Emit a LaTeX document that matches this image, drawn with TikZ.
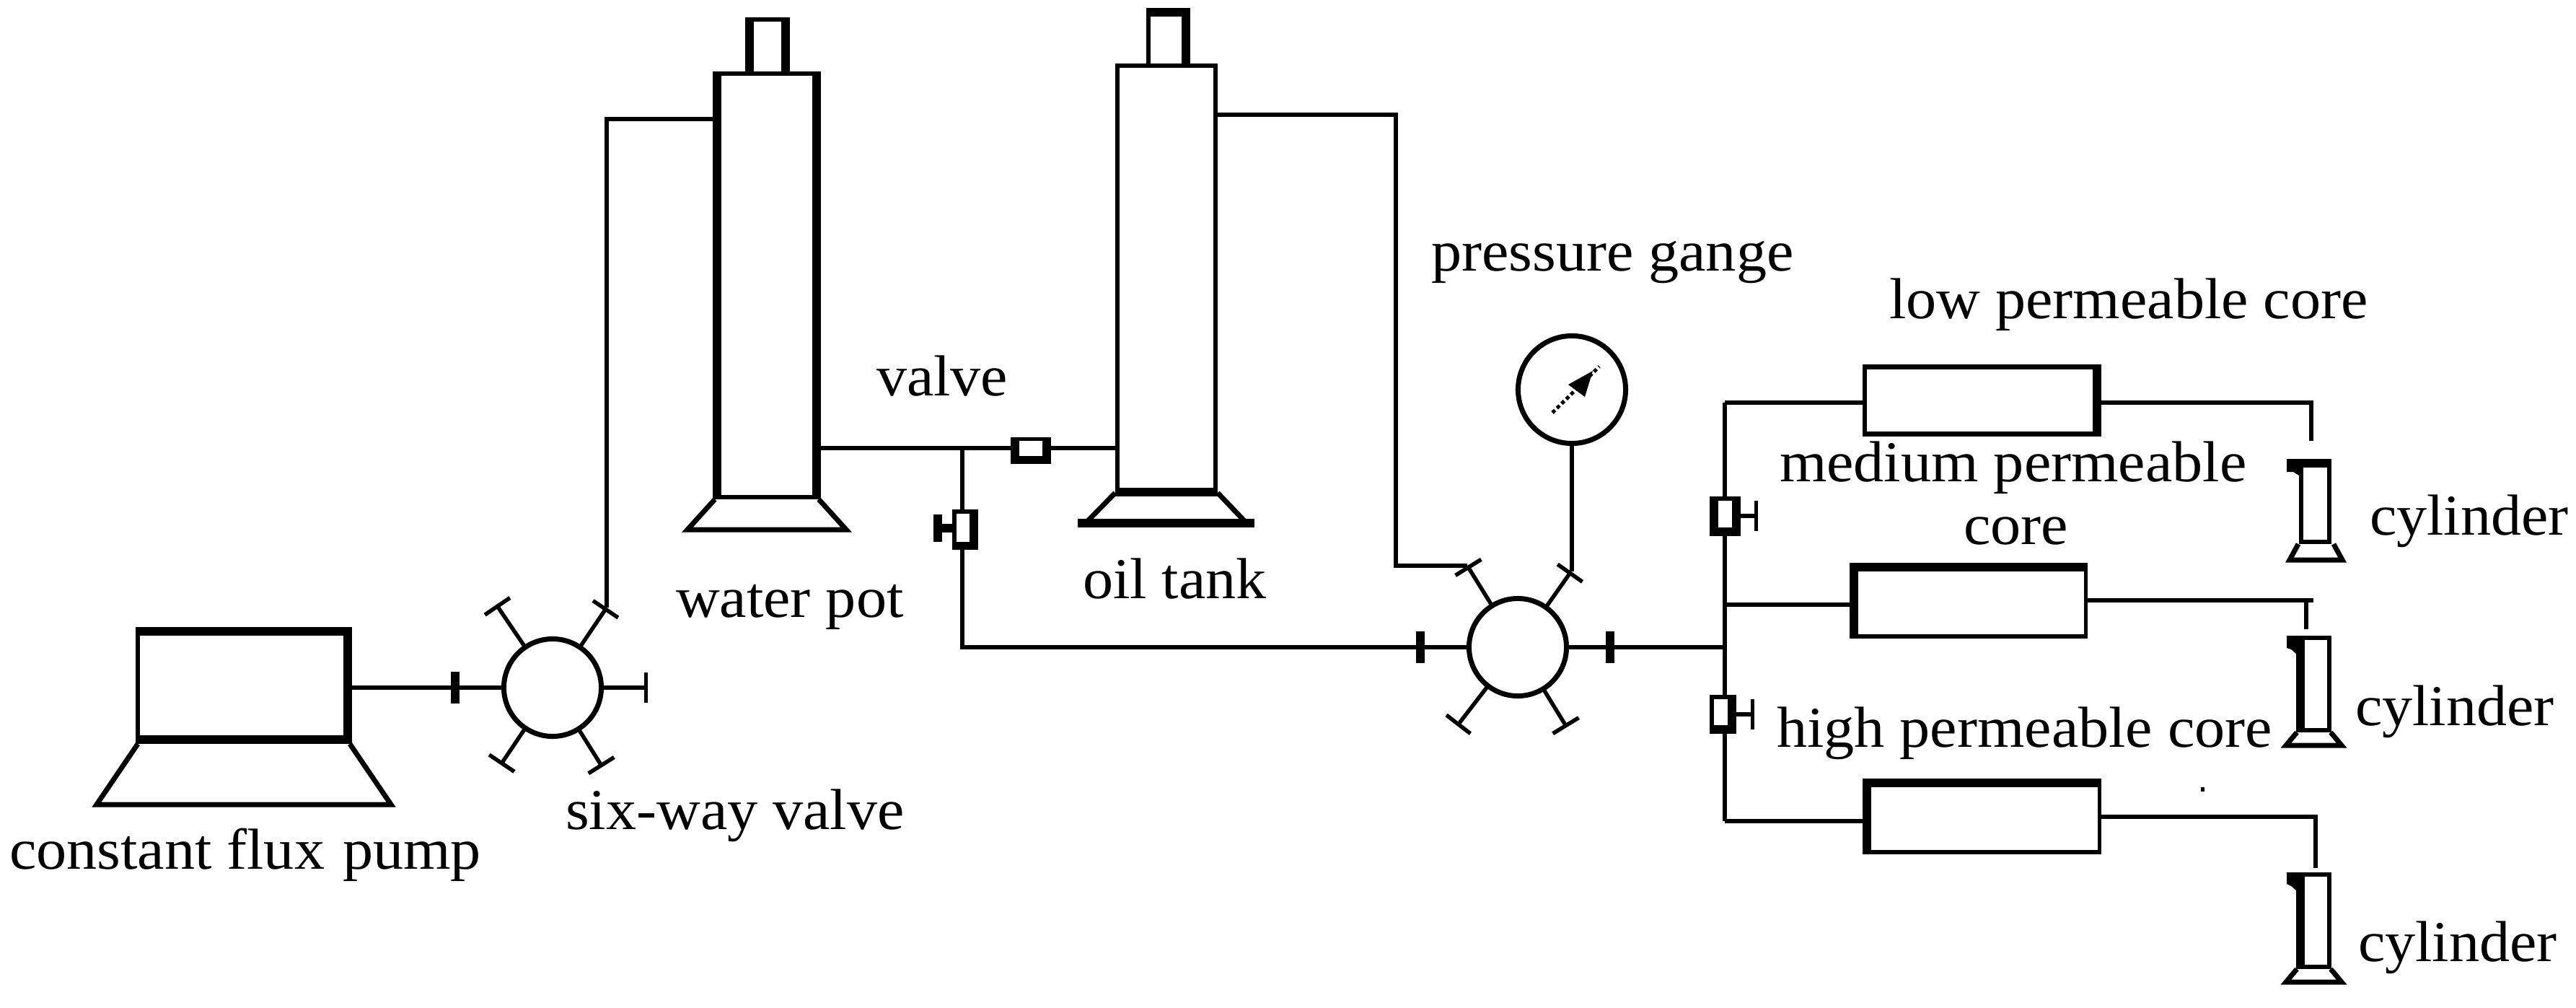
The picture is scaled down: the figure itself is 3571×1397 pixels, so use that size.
\documentclass[tikz,border=0pt]{standalone}
\usepackage{fontspec}
\setmainfont[FakeStretch=1.05]{Liberation Serif}
\usetikzlibrary{arrows.meta}

% outer box in image pixels, then the four wall widths: l t r b
\newcommand{\vesselbox}[9]{%
  \node[vessel, minimum width={(#4-#2)*0.01cm}, minimum height={(#5-#3)*0.01cm}] (#1) at ({(#2+#4)/2},{(#3+#5)/2}) {};
  \fill[white] ({#2+#6},{#3+#7}) rectangle ({#4-#8},{#5-#9});
}

\tikzset{
  vessel/.style={rectangle, fill=black, inner sep=0pt, outer sep=0pt},
  wall/.style={line width=0.07cm, line join=miter},
  pipe/.style={line width=0.055cm, line join=miter},
  stub/.style={pipe, -{Bar[width=0.42cm, line width=0.055cm]}},
  tick/.style={vessel, minimum width=0.12cm, minimum height=0.44cm},
  sixway/.style={circle, draw, line width=0.07cm, minimum size=1.35cm, inner sep=0pt, outer sep=0pt},
  lbl/.style={anchor=base west, inner sep=0pt, outer sep=0pt, font=\fontsize{22.8}{27}\selectfont},
}

\begin{document}
\begin{tikzpicture}[x=0.01cm, y=-0.01cm]
\useasboundingbox (0,0) rectangle (3571,1397);

% --- pump and first six-way valve
\vesselbox{pump}{188}{869}{488}{1031}{6}{12}{12}{12}
\draw[wall] (191,1031) -- (134,1115) -- (542,1115) -- (485,1031);
\node[sixway] (sv1) at (766,953) {};
\node[tick] (t1) at (631,953) {};
\coordinate (s1r) at (898,953);
\coordinate (s1ul) at (688,838);
\coordinate (s1ur) at (841,842);
\coordinate (s1ll) at (694,1060);
\coordinate (s1lr) at (835,1063);
\draw[pipe] (pump.east |- sv1.west) -- (sv1.west);
\draw[stub] (sv1.east) -- (s1r);
\draw[stub] (sv1) -- (s1ul);
\draw[stub] (sv1) -- (s1ur);
\draw[stub] (sv1) -- (s1ll);
\draw[stub] (sv1) -- (s1lr);

% --- water pot
\vesselbox{wcap}{1033}{24}{1095}{105}{12}{6}{12}{0}
\vesselbox{water}{988}{99}{1138}{692}{12}{6}{12}{6}
\draw[wall] (991,692) -- (953,734) -- (1173,734) -- (1135,692);
\coordinate (wIn) at (841,165);
\draw[pipe] (water.west |- wIn) -- (wIn) -- (s1ur);

% --- oil tank
\vesselbox{ocap}{1589}{11}{1650}{94}{6}{12}{12}{0}
\vesselbox{oil}{1546}{88}{1688}{688}{6}{6}{6}{12}
\draw[wall] (1546,683) -- (1505,725);
\draw[wall] (1688,683) -- (1728,725);
\draw[line width=0.12cm] (1494,725) -- (1739,725);

% --- valves between the two vessels
\vesselbox{v1}{1401}{606}{1457}{643}{12}{5}{12}{11}
\vesselbox{v2}{1320}{706}{1356}{762}{6}{6}{12}{11}
\coordinate (j1) at (1334,621);
\coordinate (j2) at (1334,897);
\coordinate (h2) at (1294,732);
\draw[pipe] (water.east |- j1) -- (v1.west |- j1);
\draw[pipe] (v1.east |- j1) -- (oil.west |- j1);
\draw[pipe] (j1) -- (j1 |- v2.north);
\draw[line width=0.12cm, -{Bar[width=0.37cm, line width=0.12cm]}] (v2.west |- h2) -- (h2);

% --- second six-way valve and pressure gauge
\node[sixway] (sv2) at (2104,897) {};
\node[tick] (t2) at (1969,897) {};
\node[tick] (t3) at (2232,897) {};
\coordinate (oOut) at (1935,159);
\coordinate (oCor) at (1935,784);
\coordinate (s2ul) at (2034,784);
\coordinate (s2ur) at (2178,792);
\coordinate (s2ll) at (2020,1006);
\coordinate (s2lr) at (2172,1008);
\coordinate (j3) at (2391,897);
\draw[pipe] (v2.south -| j1) -- (j2) -- (sv2.west);
\draw[pipe] (oil.east |- oOut) -- (oOut) -- (oCor) -- (s2ul);
\draw[stub] (sv2) -- (s2ul);
\draw[stub] (sv2) -- (s2ur);
\draw[stub] (sv2) -- (s2ll);
\draw[stub] (sv2) -- (s2lr);
\draw[pipe] (sv2.east) -- (j3);

\node[circle, draw, line width=0.07cm, minimum size=1.49cm, inner sep=0pt, outer sep=0pt] (gauge) at (2179,540) {};
\coordinate (n1) at (2152,572);
\coordinate (n2) at (2217,508);
\draw[pipe] (gauge.south) -- (gauge.south |- s2ur);
\draw[line width=0.05cm, dash pattern=on 0.05cm off 0.04cm] (n1) -- (n2);
\fill (2174,533) -- (2208,514) -- (2197,550) -- cycle;

% --- core branch valves
\vesselbox{v3}{2370}{688}{2413}{743}{12}{6}{12}{12}
\vesselbox{v4}{2370}{963}{2407}{1017}{6}{6}{12}{12}
\coordinate (c1) at (2391,558);
\coordinate (c2) at (2391,838);
\coordinate (c3) at (2391,1138);
\coordinate (h3) at (2437,715);
\coordinate (h4) at (2432,990);
\draw[pipe] (j3) -- (j3 |- v3.south);
\draw[pipe] (j3) -- (j3 |- v4.north);
\draw[pipe] (j3 |- v3.north) -- (c1);
\draw[pipe] (j3 |- v4.south) -- (c3);
\draw[stub] (v3.east |- h3) -- (h3);
\draw[stub] (v4.east |- h4) -- (h4);

% --- cores
\vesselbox{core1}{2582}{505}{2913}{605}{6}{7}{12}{7}
\vesselbox{core2}{2564}{780}{2894}{885}{12}{12}{5}{6}
\vesselbox{core3}{2582}{1079}{2913}{1184}{12}{12}{5}{6}
\coordinate (o1) at (3204,558);
\coordinate (e1) at (3204,611);
\coordinate (o2) at (3207,832);
\coordinate (o2b) at (3197,832);
\coordinate (e2) at (3197,872);
\coordinate (o3) at (3210,1132);
\coordinate (e3) at (3210,1203);
\draw[pipe] (c1) -- (core1.west |- c1);
\draw[pipe] (c2) -- (core2.west |- c2);
\draw[pipe] (c3) -- (core3.west |- c3);
\draw[pipe] (core1.east |- o1) -- (o1) -- (e1);
\draw[pipe] (core2.east |- o2) -- (o2);
\draw[pipe] (o2b) -- (e2);
\draw[pipe] (core3.east |- o3) -- (o3) -- (e3);
\node[vessel, minimum width=0.05cm, minimum height=0.06cm] (speck) at (3053,1094) {};

% --- cylinders
\vesselbox{cyl1}{3187}{636}{3232}{754}{6}{12}{6}{6}
\fill (3170,636) -- (3187,636) -- (3187,659) -- (3179,654) -- (3170,654) -- cycle;
\draw[wall] (3186,754) -- (3174,776) -- (3247,776) -- (3235,754);
\vesselbox{cyl2}{3183}{881}{3232}{1015}{12}{6}{6}{6}
\fill (3170,881) -- (3183,881) -- (3183,906) -- (3176,900) -- (3170,898) -- cycle;
\draw[wall] (3184,1015) -- (3169,1033) -- (3246,1033) -- (3231,1015);
\vesselbox{cyl3}{3183}{1209}{3232}{1343}{12}{6}{6}{6}
\fill (3170,1209) -- (3183,1209) -- (3183,1234) -- (3176,1228) -- (3170,1225) -- cycle;
\draw[wall] (3184,1343) -- (3169,1361) -- (3246,1361) -- (3231,1343);

% --- labels
\node[lbl] (lPump) at (13,1204) {constant flux\hspace{0.25cm}pump};
\node[lbl] (lSix) at (784,1149) {six-way valve};
\node[lbl] (lWater) at (937,855) {water pot};
\node[lbl] (lValve) at (1215,548) {valve};
\node[lbl] (lOil) at (1501,829) {oil tank};
\node[lbl] (lGauge) at (1984,376) {pressure gange};
\node[lbl] (lLow) at (2619,442) {low permeable core};
\node[lbl] (lMed) at (2467,667) {medium permeable};
\node[lbl] (lMed2) at (2722,754) {core};
\node[lbl] (lHigh) at (2463,1035) {high permeable core};
\node[lbl] (lCyl1) at (3285,741) {cylinder};
\node[lbl] (lCyl2) at (3265,1005) {cylinder};
\node[lbl] (lCyl3) at (3269,1332) {cylinder};
\end{tikzpicture}
\end{document}
